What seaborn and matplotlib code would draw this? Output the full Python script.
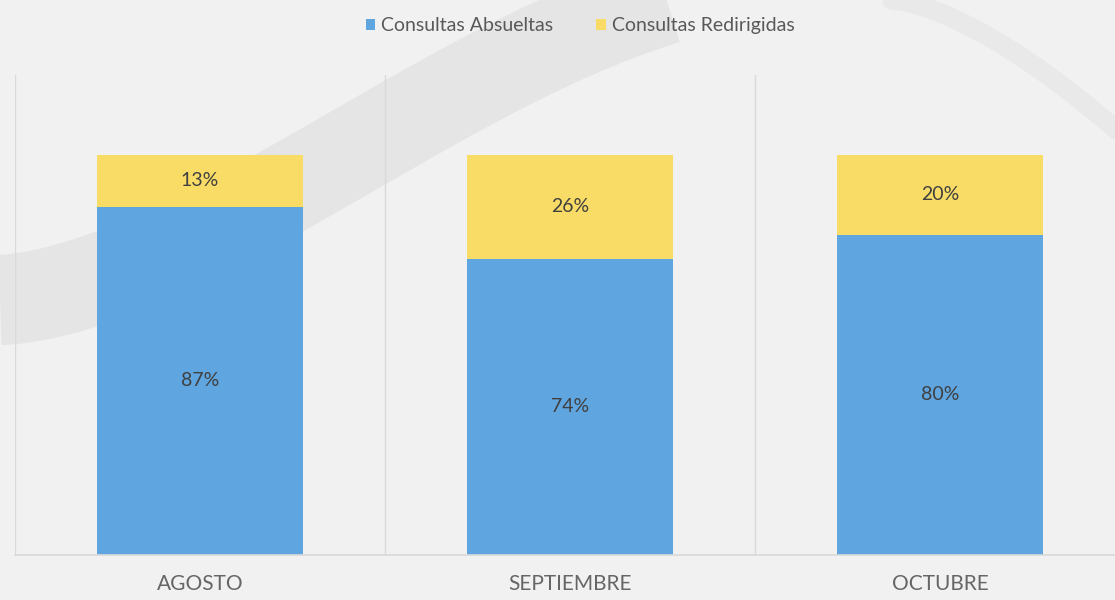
import matplotlib
matplotlib.use('Agg')
import matplotlib.pyplot as plt
import seaborn as sns
import numpy as np
import pandas as pd

meses = ['AGOSTO', 'SEPTIEMBRE', 'OCTUBRE']
absueltas = [87, 74, 80]
redirigidas = [13, 26, 20]
series = ['Consultas Absueltas', 'Consultas Redirigidas']
colores = ['#5fa5e0', '#f9dc66']

sns.set_theme(style='white')
plt.rcParams['font.family'] = ['Lato', 'DejaVu Sans']

fig = plt.figure(figsize=(11.15, 6.0), dpi=100)
fig.patch.set_facecolor('#f1f1f1')

# background swoosh, purely decorative
bg = fig.add_axes([0, 0, 1, 1], zorder=0)
bg.set_xlim(0, 1)
bg.set_ylim(0, 1)
bg.axis('off')
t = np.linspace(0, 1, 200)
xs = 0.0 + 0.76 * t
ys = 0.50 + 0.55 * np.sin(t * np.pi / 2) ** 1.6
bg.plot(xs, ys, color='#dcdcdc', lw=65, alpha=0.55, solid_capstyle='butt')
t2 = np.linspace(0, 1, 200)
bg.plot(0.80 + 0.25 * t2, 1.0 - 0.30 * t2 ** 1.5, color='#e4e4e4', lw=14, alpha=0.6)

ax = fig.add_axes([15 / 1115, 45 / 600, 1110 / 1115, 480 / 600], zorder=1)
ax.patch.set_alpha(0)

df = pd.DataFrame({'mes': meses, 'abs': absueltas,
                   'total': np.array(absueltas) + np.array(redirigidas)})

sns.barplot(data=df, x='mes', y='total', color=colores[1], width=0.557,
            saturation=1, linewidth=0, ax=ax, label=series[1])
sns.barplot(data=df, x='mes', y='abs', color=colores[0], width=0.557,
            saturation=1, linewidth=0, ax=ax, label=series[0])

for i, (a, r) in enumerate(zip(absueltas, redirigidas)):
    ax.text(i, a / 2, f'{a}%', ha='center', va='center', fontsize=14, color='#404040')
    ax.text(i, a + r / 2, f'{r}%', ha='center', va='center', fontsize=14, color='#404040')

for xv in [-0.5, 0.5, 1.5, 2.5]:
    ax.axvline(xv, color='#d9d9d9', lw=1, zorder=0)

ax.set_xlim(-0.5, 2.5)
ax.set_ylim(0, 120)
ax.set_yticks([])
ax.set_xlabel('')
ax.set_ylabel('')
ax.tick_params(axis='x', length=0, pad=14)
ax.set_xticks(range(len(meses)))
ax.set_xticklabels(meses, fontsize=15, color='#666666')
for s in ['top', 'left', 'right']:
    ax.spines[s].set_visible(False)
ax.spines['bottom'].set_color('#d9d9d9')

handles, labels = ax.get_legend_handles_labels()
order = [labels.index(series[0]), labels.index(series[1])]
leg = ax.legend([handles[k] for k in order], [labels[k] for k in order],
                loc='upper center', bbox_to_anchor=(580 / 1115, 1.0),
                bbox_transform=fig.transFigure, ncol=2, frameon=False,
                fontsize=14, handlelength=0.5, handleheight=0.5,
                handletextpad=0.3, columnspacing=2.2)
for txt in leg.get_texts():
    txt.set_color('#595959')

fig.savefig('out.png', dpi=100, facecolor=fig.get_facecolor())
